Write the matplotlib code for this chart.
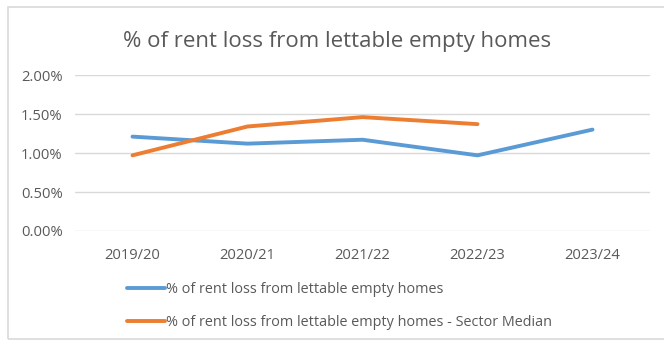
import matplotlib
matplotlib.use("Agg")
import matplotlib.pyplot as plt
from matplotlib.patches import Rectangle
from matplotlib.ticker import PercentFormatter

years = ["2019/20", "2020/21", "2021/22", "2022/23", "2023/24"]
rent_loss = [1.21, 1.12, 1.17, 0.97, 1.30]
sector_median = [0.97, 1.34, 1.46, 1.37]

label_own = "% of rent loss from lettable empty homes"
label_median = "% of rent loss from lettable empty homes - Sector Median"

plt.rcParams['font.family'] = ['Open Sans', 'DejaVu Sans']

W, H = 664, 340
fig = plt.figure(figsize=(W / 100, H / 100), dpi=100)

# chart frame
fig.patches.append(Rectangle((8 / W, 1 / H), 1.0, 1 - 8 / H, transform=fig.transFigure,
                             fill=False, edgecolor="#d9d9d9", linewidth=1.2))

ax = fig.add_axes([75 / W, 1 - 231 / H, (650 - 75) / W, (231 - 75) / H])

ax.plot(years, rent_loss, color="#5b9bd5", linewidth=2.8, solid_capstyle="round",
        label=label_own)
ax.plot(years[:len(sector_median)], sector_median, color="#ed7d31", linewidth=2.8,
        solid_capstyle="round", label=label_median)

ax.set_ylim(0, 2.0)
ax.set_yticks([0, 0.5, 1.0, 1.5, 2.0])
ax.yaxis.set_major_formatter(PercentFormatter(decimals=2))
ax.set_xlim(-0.5, 4.5)
ax.grid(axis="y", color="#d9d9d9", linewidth=1)
ax.set_axisbelow(True)
for s in ax.spines.values():
    s.set_visible(False)
ax.tick_params(length=0, colors="#595959", labelsize=10.6)
ax.tick_params(axis="y", pad=9)
ax.tick_params(axis="x", pad=12)

fig.text(0.508, 1 - 41 / H, "% of rent loss from lettable empty homes",
         ha="center", va="center", fontsize=16, color="#595959")

leg = fig.legend(loc="upper left", bbox_to_anchor=(114 / W, 1 - 269 / H),
                 frameon=False, fontsize=10.4, handlelength=2.6, handletextpad=0.1,
                 labelspacing=1.25)
for t in leg.get_texts():
    t.set_color("#595959")

fig.savefig("out.png", dpi=100)
